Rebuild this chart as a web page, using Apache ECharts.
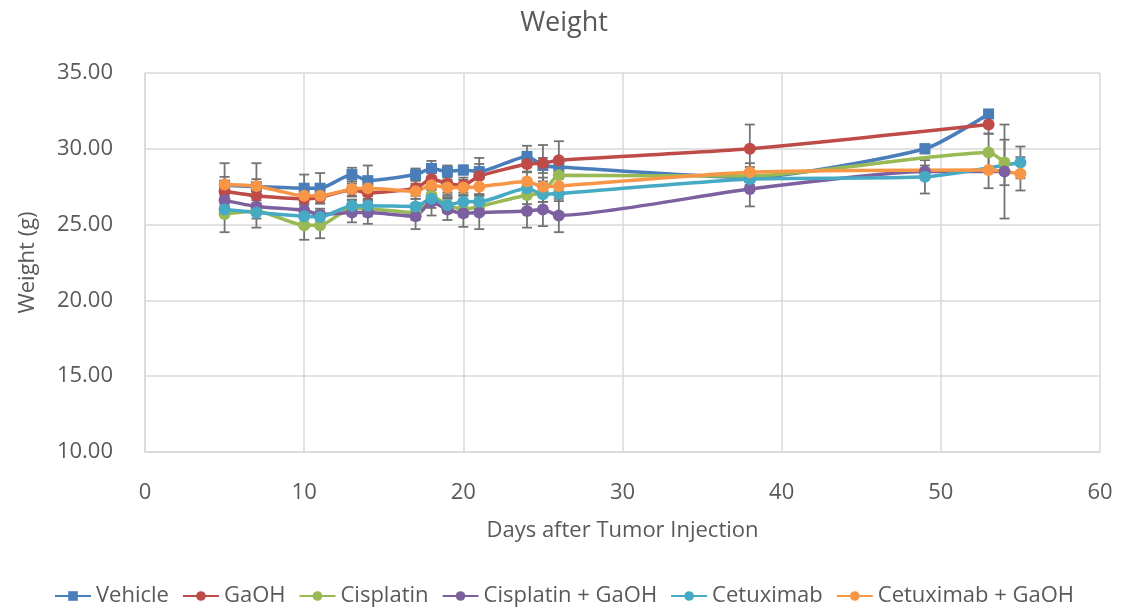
<!DOCTYPE html>
<html>
<head>
<meta charset="utf-8">
<script src="https://cdn.jsdelivr.net/npm/echarts@6/dist/echarts.min.js"></script>
<style>
  html, body { margin: 0; padding: 0; background: #ffffff; }
  #chart { width: 1128px; height: 614px; }
</style>
</head>
<body>
<div id="chart"></div>
<script>
// Mean body weight (g) per treatment group, with SD error bars
const seriesNames = ['Vehicle', 'GaOH', 'Cisplatin', 'Cisplatin + GaOH', 'Cetuximab', 'Cetuximab + GaOH'];
const seriesColors = ['#4a7ebb', '#be4b48', '#98b954', '#7d60a0', '#46aac5', '#f79646'];

const vehicleDays = [5, 7, 10, 11, 13, 14, 17, 18, 19, 20, 21, 24, 25, 26, 38, 49, 53];
const vehicleWeight = [27.6, 27.5, 27.4, 27.4, 28.3, 27.9, 28.3, 28.7, 28.5, 28.6, 28.5, 29.5, 28.9, 28.8, 28.1, 30.0, 32.3];
const vehicleErr = [0.55, 0.5, 0.9, 1.0, 0.45, 1.0, 0.4, 0.5, 0.4, 0.3, 0.5, 0.7, 0.5, 0.5, 0.5, 0.3, 0.2];

const gaohDays = [5, 7, 10, 11, 13, 14, 17, 18, 19, 20, 21, 24, 25, 26, 38, 53];
const gaohWeight = [27.2, 26.9, 26.7, 26.8, 27.3, 27.1, 27.4, 28.0, 27.7, 27.6, 28.2, 29.0, 29.05, 29.25, 30.0, 31.6];
const gaohErr = [0.4, 0.5, 0.4, 0.4, 0.4, 0.4, 0.5, 0.7, 0.6, 0.5, 1.2, 0.5, 1.2, 1.25, 1.6, 0.6];

const cisDays = [5, 7, 10, 11, 13, 14, 17, 18, 19, 20, 21, 24, 25, 26, 38, 53, 54];
const cisWeight = [25.7, 25.9, 24.95, 24.95, 26.1, 26.05, 25.8, 26.9, 26.3, 26.0, 26.2, 26.95, 27.1, 28.25, 28.2, 29.75, 29.1];
const cisErr = [1.2, 1.1, 0.95, 0.85, 0.5, 0.5, 0.5, 0.6, 0.5, 0.5, 0.5, 0.6, 0.6, 0.6, 0.6, 1.25, 1.5];

const cisGaohDays = [5, 7, 10, 11, 13, 14, 17, 18, 19, 20, 21, 24, 25, 26, 38, 49, 54];
const cisGaohWeight = [26.6, 26.2, 25.95, 25.65, 25.8, 25.8, 25.55, 26.5, 26.0, 25.75, 25.8, 25.9, 26.0, 25.6, 27.35, 28.5, 28.5];
const cisGaohErr = [0.4, 0.4, 0.4, 0.4, 0.65, 0.75, 0.85, 0.9, 0.7, 0.9, 1.1, 1.1, 1.1, 1.1, 1.15, 0.4, 3.1];

const cetDays = [5, 7, 10, 11, 13, 14, 17, 18, 19, 20, 21, 24, 25, 26, 38, 49, 55];
const cetWeight = [26.0, 25.8, 25.55, 25.5, 26.25, 26.25, 26.2, 26.7, 26.3, 26.5, 26.5, 27.4, 27.0, 27.05, 28.0, 28.15, 29.1];
const cetErr = [0.4, 0.4, 0.4, 0.4, 0.4, 0.4, 0.5, 0.6, 0.5, 0.4, 0.4, 0.5, 0.5, 0.5, 0.5, 1.1, 1.05];

const cetGaohDays = [5, 7, 10, 11, 13, 14, 17, 18, 19, 20, 21, 24, 25, 26, 38, 53, 55];
const cetGaohWeight = [27.65, 27.55, 26.9, 26.9, 27.35, 27.4, 27.2, 27.6, 27.45, 27.45, 27.5, 27.85, 27.5, 27.55, 28.45, 28.6, 28.35];
const cetGaohErr = [1.4, 1.5, 0.5, 0.5, 0.5, 0.5, 0.5, 0.5, 0.5, 0.5, 0.5, 0.6, 0.6, 0.6, 0.6, 1.2, 1.1];

const xTicks = [0, 10, 20, 30, 40, 50, 60];
const yTicks = [10, 15, 20, 25, 30, 35];

const groups = [
  { days: vehicleDays, weight: vehicleWeight, err: vehicleErr, symbol: 'rect' },
  { days: gaohDays, weight: gaohWeight, err: gaohErr, symbol: 'circle' },
  { days: cisDays, weight: cisWeight, err: cisErr, symbol: 'circle' },
  { days: cisGaohDays, weight: cisGaohWeight, err: cisGaohErr, symbol: 'circle' },
  { days: cetDays, weight: cetWeight, err: cetErr, symbol: 'circle' },
  { days: cetGaohDays, weight: cetGaohWeight, err: cetGaohErr, symbol: 'circle' }
];

const FONT = "'Open Sans', sans-serif";
const TEXT = '#595959';
const GRID = '#d9d9d9';
const ERR = '#737373';

function errorBarSeries(g, idx) {
  return {
    name: seriesNames[idx] + ' SD',
    type: 'custom',
    z: 1,
    silent: true,
    data: g.days.map((d, i) => [d, g.weight[i] - g.err[i], g.weight[i] + g.err[i]]),
    renderItem: function (params, api) {
      const x = api.value(0);
      const lo = api.coord([x, api.value(1)]);
      const hi = api.coord([x, api.value(2)]);
      const w = 5;
      const style = { stroke: ERR, lineWidth: 1.8 };
      return {
        type: 'group',
        children: [
          { type: 'line', shape: { x1: lo[0], y1: lo[1], x2: hi[0], y2: hi[1] }, style: style },
          { type: 'line', shape: { x1: hi[0] - w, y1: hi[1], x2: hi[0] + w, y2: hi[1] }, style: style },
          { type: 'line', shape: { x1: lo[0] - w, y1: lo[1], x2: lo[0] + w, y2: lo[1] }, style: style }
        ]
      };
    }
  };
}

function lineSeries(g, idx) {
  return {
    name: seriesNames[idx],
    type: 'line',
    z: 2,
    smooth: 0.2,
    symbol: g.symbol,
    symbolSize: g.symbol === 'rect' ? 11 : 12,
    color: seriesColors[idx],
    lineStyle: { width: 3.5, color: seriesColors[idx] },
    itemStyle: { color: seriesColors[idx] },
    data: g.days.map((d, i) => [d, g.weight[i]])
  };
}

const series = [];
groups.forEach((g, i) => series.push(errorBarSeries(g, i)));
groups.forEach((g, i) => series.push(lineSeries(g, i)));

const chart = echarts.init(document.getElementById('chart'), null, { renderer: 'canvas' });
chart.setOption({
  animation: false,
  backgroundColor: '#ffffff',
  textStyle: { fontFamily: FONT, color: TEXT },
  title: {
    text: 'Weight',
    left: 'center',
    top: 5,
    textStyle: { fontFamily: FONT, fontSize: 27, fontWeight: 'normal', color: TEXT }
  },
  legend: {
    data: seriesNames,
    bottom: 2,
    left: 'center',
    itemWidth: 36,
    itemHeight: 12,
    itemGap: 13,
    textStyle: { fontFamily: FONT, fontSize: 22, color: TEXT }
  },
  grid: { left: 145, right: 28, top: 73, bottom: 162, containLabel: false },
  xAxis: {
    type: 'value',
    min: xTicks[0],
    max: xTicks[xTicks.length - 1],
    interval: 10,
    name: 'Days after Tumor Injection',
    nameLocation: 'middle',
    nameGap: 68,
    nameTextStyle: { fontFamily: FONT, fontSize: 22, color: TEXT },
    axisLine: { show: true, lineStyle: { color: GRID, width: 1.5 } },
    axisTick: { show: false },
    axisLabel: { fontFamily: FONT, fontSize: 22, color: TEXT, margin: 30 },
    splitLine: { show: true, lineStyle: { color: GRID, width: 1.5 } }
  },
  yAxis: {
    type: 'value',
    min: yTicks[0],
    max: yTicks[yTicks.length - 1],
    interval: 5,
    name: 'Weight (g)',
    nameLocation: 'middle',
    nameGap: 106,
    nameRotate: 90,
    nameTextStyle: { fontFamily: FONT, fontSize: 22, color: TEXT },
    axisLine: { show: true, lineStyle: { color: GRID, width: 1.5 } },
    axisTick: { show: false },
    axisLabel: { fontFamily: FONT, fontSize: 22, color: TEXT, margin: 32, formatter: v => v.toFixed(2) },
    splitLine: { show: true, lineStyle: { color: GRID, width: 1.5 } }
  },
  series: series
});
</script>
</body>
</html>
